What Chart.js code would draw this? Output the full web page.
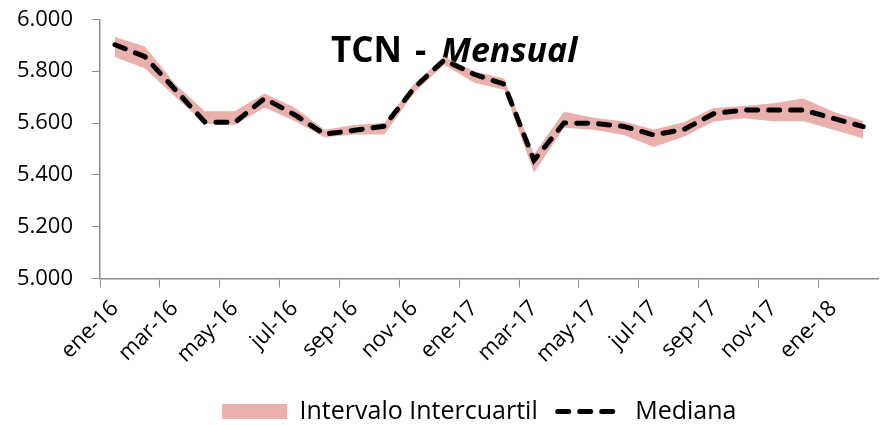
<!DOCTYPE html>
<html>
<head>
<meta charset="utf-8">
<script src="https://cdn.jsdelivr.net/npm/chart.js@4.4.1/dist/chart.umd.min.js"></script>
<style>
  html, body { margin: 0; padding: 0; background: #fff; overflow: hidden; }
  #wrap { width: 890px; height: 425px; }
</style>
</head>
<body>
<div id="wrap"><canvas id="tcnChart" width="890" height="425"></canvas></div>
<script>
// meses ene-16 .. feb-18
const months = ["ene-16", "feb-16", "mar-16", "abr-16", "may-16", "jun-16", "jul-16", "ago-16", "sep-16", "oct-16", "nov-16", "dic-16",
	"ene-17", "feb-17", "mar-17", "abr-17", "may-17", "jun-17", "jul-17", "ago-17", "sep-17", "oct-17", "nov-17", "dic-17",
	"ene-18", "feb-18"];
const mediana = [5902, 5856, 5730, 5604, 5602, 5695, 5632, 5557, 5572, 5588, 5736, 5843,
	5788, 5750, 5456, 5600, 5599, 5587, 5554, 5575, 5636, 5650, 5650, 5650, 5618, 5586];
const q3 = [5932, 5895, 5752, 5645, 5645, 5714, 5660, 5574, 5592, 5600, 5752, 5856,
	5800, 5772, 5480, 5643, 5620, 5606, 5575, 5603, 5658, 5666, 5676, 5695, 5643, 5608];
const q1 = [5855, 5810, 5702, 5598, 5592, 5660, 5608, 5545, 5556, 5556, 5718, 5825,
	5755, 5728, 5408, 5582, 5574, 5554, 5508, 5547, 5606, 5618, 5607, 5607, 5574, 5540];

const bandColor = "#e9b0ae";
const axisColor = "#8c8c8c";

Chart.defaults.font.family = "'Open Sans', sans-serif";
Chart.defaults.color = "#000";

const fmt = (v) => Math.round(v).toString().replace(/\B(?=(\d{3})+(?!\d))/g, ".");

// titulo con dos estilos, detras de las lineas
const titlePlugin = {
	id: "mixedTitle",
	beforeDatasetsDraw(chart) {
		const c = chart.ctx;
		c.save();
		c.fillStyle = "#000";
		c.textBaseline = "alphabetic";
		c.font = "bold 35px 'Open Sans'";
		c.fillText("TCN", 331, 62);
		c.fillText("-", 415, 62);
		c.font = "italic bold 34px 'Open Sans'";
		c.fillText("Mensual", 441, 62);
		c.restore();
	},
};

// la leyenda de excel queda algo a la derecha del centro
const legendShift = {
	id: "legendShift",
	afterLayout(chart) {
		chart.legend.left += 36;
		chart.legend.right += 36;
	},
};

const ctx = document.getElementById("tcnChart");

const myChart = new Chart(ctx, {
	type: "line",
	data: {
		labels: months,
		datasets: [
			{
				label: "Mediana",
				data: mediana,
				borderColor: "#000",
				borderWidth: 5,
				borderDash: [11, 11],
				borderCapStyle: "round",
				pointRadius: 0,
				fill: false,
				tension: 0,
			},
			{
				label: "Q3",
				data: q3,
				borderWidth: 0,
				borderColor: bandColor,
				backgroundColor: bandColor,
				pointRadius: 0,
				fill: "+1",
				tension: 0,
			},
			{
				label: "Q1",
				data: q1,
				borderWidth: 0,
				borderColor: bandColor,
				pointRadius: 0,
				fill: false,
				tension: 0,
			},
		],
	},
	options: {
		responsive: false,
		animation: false,
		layout: { padding: { top: 19.3, right: 3.5, left: 0, bottom: -9 } },
		plugins: {
			tooltip: { enabled: false },
			legend: {
				position: "bottom",
				labels: {
					usePointStyle: true,
					pointStyleWidth: 65,
					boxHeight: 15,
					padding: 20,
					color: "#000",
					font: { size: 25 },
					generateLabels: () => [
						{ text: "Intervalo Intercuartil", fillStyle: bandColor, strokeStyle: bandColor, lineWidth: 0, pointStyle: "rect", datasetIndex: 1 },
						{ text: "Mediana", fillStyle: "#000", strokeStyle: "#000", lineWidth: 5, lineDash: [11, 11], lineCap: "round", pointStyle: "line", datasetIndex: 0 },
					],
				},
			},
		},
		scales: {
			x: {
				offset: true,
				afterFit: (s) => { s.height = 100.4; },
				grid: {
					offset: true,
					drawOnChartArea: false,
					tickLength: 9,
					color: (c) => (c.index % 2 === 0 ? axisColor : "rgba(0,0,0,0)"),
				},
				border: { color: axisColor, width: 1.5 },
				ticks: {
					autoSkip: false,
					maxRotation: 45,
					minRotation: 45,
					padding: 8,
					font: { size: 22 },
					callback: (v, i) => (i % 2 === 0 ? months[i] : ""),
				},
			},
			y: {
				min: 5000,
				max: 6000,
				afterFit: (s) => {
					s.width = 100;
					s.paddingTop = 0;
					s.paddingBottom = 0;
				},
				grid: { drawOnChartArea: false, tickLength: 8, color: axisColor },
				border: { color: axisColor, width: 1.5 },
				ticks: {
					stepSize: 200,
					padding: 19,
					font: { size: 22 },
					callback: (v) => fmt(v),
				},
			},
		},
	},
	plugins: [titlePlugin, legendShift],
});
</script>
</body>
</html>
